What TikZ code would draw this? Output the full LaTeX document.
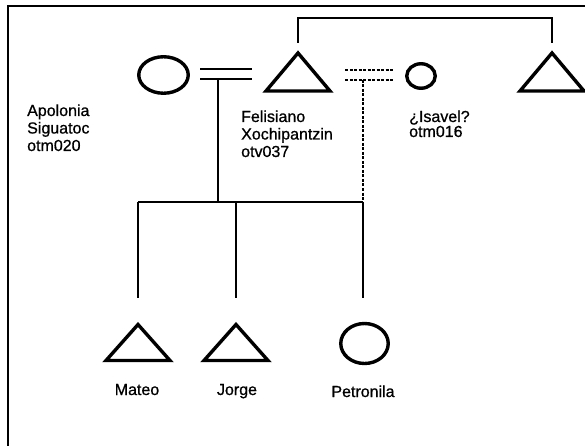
\documentclass[tikz,border=0pt]{standalone}
\usepackage{fontspec}
\setmainfont{Liberation Sans}
\newfontfamily\lblfont{Liberation Sans}[FakeBold=0.8]
\usetikzlibrary{shapes.geometric}
\begin{document}
\begin{tikzpicture}[x=1pt,y=-1pt,
  sym/.style={line width=3.4pt, line join=miter},
  link/.style={line width=1.8pt},
  dlink/.style={line width=1.8pt, dash pattern=on 3pt off 1.5pt},
  female/.style={ellipse, draw, sym, inner sep=0pt, outer sep=0pt},
  lbl/.style={inner sep=0pt, font=\lblfont\fontsize{16}{17.5}\selectfont, align=left},
  male/.pic={\draw[sym] (-32,19) -- (32,19) -- (0,-19) -- cycle;
             \coordinate (-apex) at (0,-19);},
  malesmall/.pic={\draw[sym] (-32,18) -- (32,18) -- (0,-18) -- cycle;
             \coordinate (-apex) at (0,-18);}
]
\useasboundingbox (0,0) rectangle (585,446);

% frame
\draw[line width=1.3pt] (8,446) -- (8,6) -- (585,6);

% first generation
\node[female, minimum width=49.5pt, minimum height=36.5pt] (apolonia) at (163.5,75) {};
\pic (felisiano) at (298,72) {male};
\node[female, minimum width=28.5pt, minimum height=24.5pt] (isavel) at (421,76) {};
\pic (brother) at (552,72) {male};

% second generation
\pic (mateo) at (138,342.5) {malesmall};
\pic (jorge) at (236,342.5) {malesmall};
\node[female, minimum width=47.5pt, minimum height=40pt] (petronila) at (364.5,343.5) {};

% labels (base anchor = baseline of the last line)
\node[lbl, anchor=base west] (apolonia-lbl) at (27,151) {Apolonia\\Siguatoc\\otm020};
\node[lbl, anchor=base west] (felisiano-lbl) at (241,157) {Felisiano\\Xochipantzin\\otv037};
\node[lbl, anchor=base west, font=\lblfont\fontsize{16}{15}\selectfont] (isavel-lbl) at (409,137) {¿Isavel?\\otm016};
\node[lbl, anchor=base] (mateo-lbl) at (137,395) {Mateo};
\node[lbl, anchor=base] (jorge-lbl) at (237,395) {Jorge};
\node[lbl, anchor=base] (petronila-lbl) at (363,397) {Petronila};

% connector end points
\coordinate (mA1) at (200,69);  \coordinate (mA2) at (252,69);
\coordinate (mA3) at (200,79);  \coordinate (mA4) at (252,79);
\coordinate (mB1) at (345,70);  \coordinate (mB2) at (393,70);
\coordinate (mB3) at (345,80);  \coordinate (mB4) at (393,80);
\coordinate (dropA) at (218,79); \coordinate (dropB) at (363,80);
\coordinate (sibL) at (138,202); \coordinate (sibA) at (218,202);
\coordinate (sibJ) at (236,202); \coordinate (sibR) at (363,202);
\coordinate (endM) at (138,298); \coordinate (endJ) at (236,298);
\coordinate (endP) at (363,298);
\coordinate (topL) at (298,43); \coordinate (topR) at (552,43);

% marriages
\draw[link] (mA1) -- (mA2) (mA3) -- (mA4);
\draw[dlink] (mB1) -- (mB2) (mB3) -- (mB4);
\draw[link] (dropA) -- (sibA);
\draw[dlink] (dropB) -- (sibR);

% siblings
\draw[link] (sibL) -- (sibR);
\draw[link] (sibL) -- (endM) (sibJ) -- (endJ) (sibR) -- (endP);
\draw[link] (topL) -- ++(0,-25) -| (topR);
\end{tikzpicture}
\end{document}
